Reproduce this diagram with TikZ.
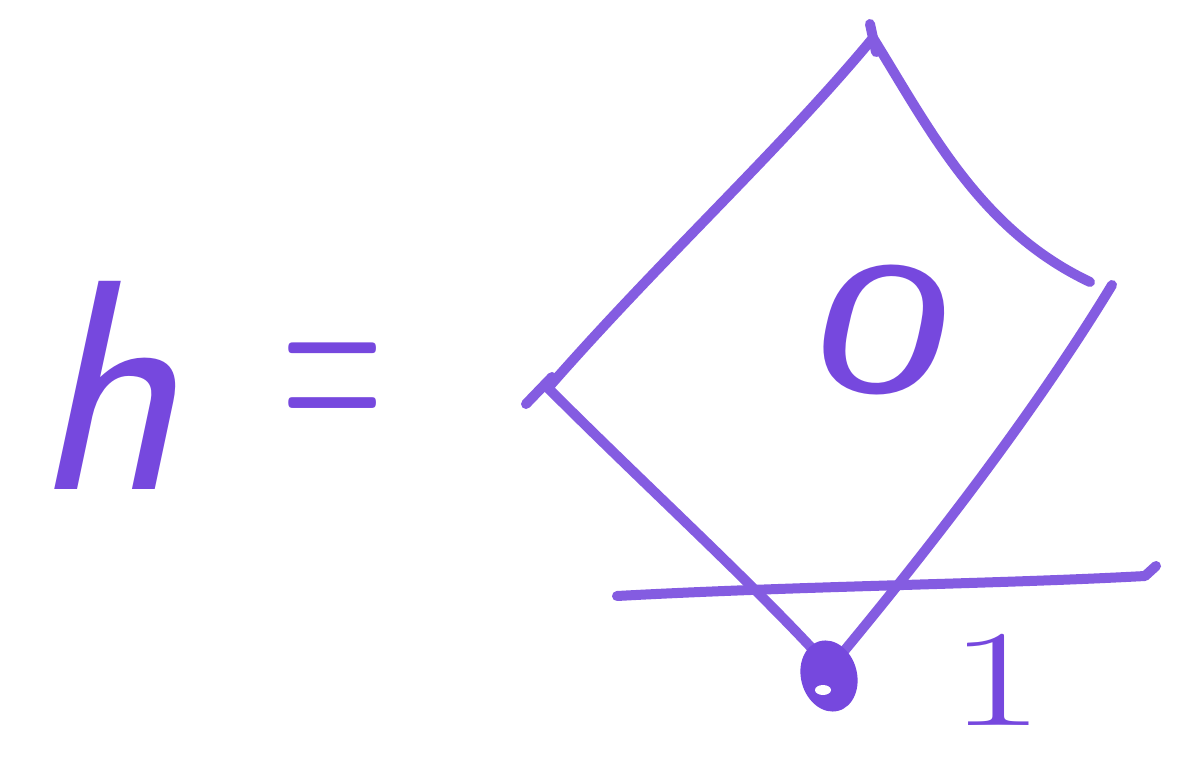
\documentclass[tikz,border=0pt]{standalone}
\usetikzlibrary{calc,shapes.geometric}
\definecolor{pen}{RGB}{118,72,222}
\definecolor{penlight}{RGB}{132,92,225}
\tikzset{
  stroke/.style={draw=penlight, line width=10pt, line cap=round, line join=round},
  glyph/.style={text=pen, inner sep=0pt, anchor=center},
}
\begin{document}
\begin{tikzpicture}[x=1pt,y=-1pt]
\useasboundingbox[fill=white] (0,0) rectangle (1184,757);
% text
\node[glyph, font=\sffamily\itshape\fontsize{300}{300}\selectfont, xscale=1.0] (h) at (105,385) {h};
\node[glyph, font=\sffamily\fontsize{140}{140}\selectfont, yscale=2.2, xscale=1.0] (eq) at (333,398) {=};
\node[glyph, font=\sffamily\fontsize{190}{190}\selectfont, xscale=1.55, rotate=-8] (zero) at (884,330) {0};
\node[glyph, font=\fontsize{138}{138}\selectfont, xscale=1.5] (one) at (997,680) {1};
% diamond corners
\coordinate (L) at (548,388);
\coordinate (T) at (873,38);
\coordinate (R1) at (1090,282);
\coordinate (R2) at (1112,285);
\coordinate (B) at (830,668);
% edges
\draw[stroke] (L) .. controls (660,260) and (780,150) .. (T);
\draw[stroke] (T) .. controls (930,130) and (980,230) .. (R1);
\draw[stroke] (R2) .. controls (1030,420) and (920,560) .. (B);
\draw[stroke] (L) .. controls (650,490) and (760,590) .. (B);
% ticks
\draw[stroke] (526,404) -- (552,377);
\draw[stroke] (870,24) -- (876,52);
% horizontal line
\coordinate (H1) at (617,596);
\coordinate (H2) at (1156,566);
\draw[stroke] (H1) .. controls (800,586) and (1000,584) .. (1145,576) -- (H2);
% dot
\node[ellipse, fill=pen, minimum width=56pt, minimum height=72pt, rotate=15, inner sep=0pt] (dot) at (829,676) {};
\fill[white] (823,690) ellipse (8pt and 5pt);
\end{tikzpicture}
\end{document}
